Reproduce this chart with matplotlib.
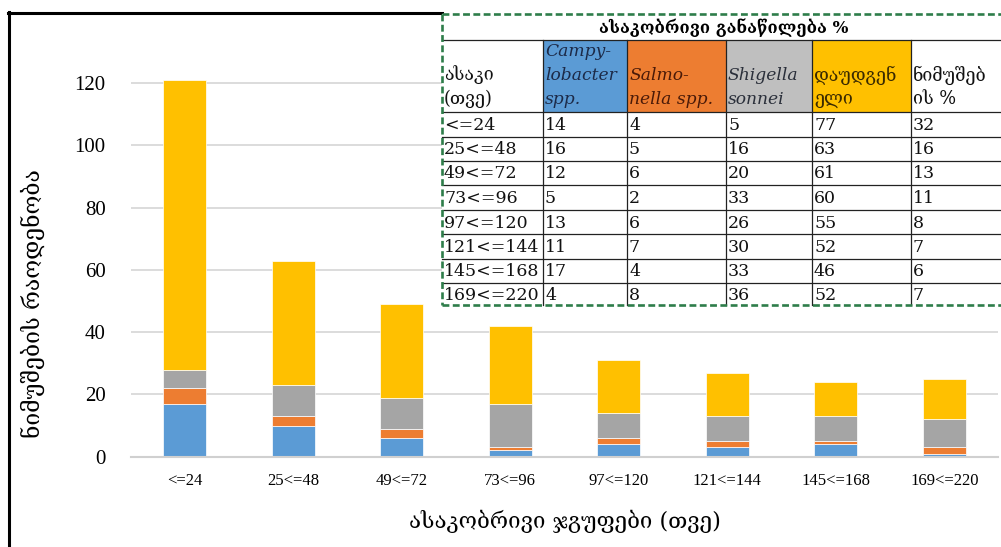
import matplotlib
matplotlib.use("Agg")
import matplotlib.pyplot as plt
import numpy as np
from matplotlib.patches import Rectangle
from matplotlib.lines import Line2D

# ---- data -------------------------------------------------------------
categories = ['<=24', '25<=48', '49<=72', '73<=96', '97<=120',
              '121<=144', '145<=168', '169<=220']
campylobacter = [17, 10, 6, 2, 4, 3, 4, 1]
salmonella = [5, 3, 3, 1, 2, 2, 1, 2]
shigella = [6, 10, 10, 14, 8, 8, 8, 9]
unknown = [93, 40, 30, 25, 17, 14, 11, 13]

y_ticks = [0, 20, 40, 60, 80, 100, 120]

table_title = 'ასაკობრივი განაწილება %'
table_headers = [['ასაკი', '(თვე)'],
                 ['Campy-', 'lobacter', 'spp.'],
                 ['Salmo-', 'nella spp.'],
                 ['Shigella', 'sonnei'],
                 ['დაუდგენ', 'ელი'],
                 ['ნიმუშებ', 'ის %']]
pct_campylobacter = [14, 16, 12, 5, 13, 11, 17, 4]
pct_salmonella = [4, 5, 6, 2, 6, 7, 4, 8]
pct_shigella = [5, 16, 20, 33, 26, 30, 33, 36]
pct_unknown = [77, 63, 61, 60, 55, 52, 46, 52]
pct_samples = [32, 16, 13, 11, 8, 7, 6, 7]

y_label = 'ნიმუშების რაოდენობა'
x_label = 'ასაკობრივი ჯგუფები (თვე)'

# ---- style ------------------------------------------------------------
C_BLUE = '#5b9bd5'
C_ORANGE = '#ed7d31'
C_GRAY = '#a5a5a5'
C_YELLOW = '#ffc000'
SERIF = ['Liberation Serif', 'DejaVu Serif', 'DejaVu Sans']
TSERIF = ['DejaVu Serif', 'DejaVu Sans']
GEO = ['DejaVu Serif', 'DejaVu Sans']

W, H = 1001, 547
fig = plt.figure(figsize=(W / 100, H / 100), dpi=100)


def fx(x):
    return x / W


def fy(y):
    return 1 - y / H


# ---- stacked bars -----------------------------------------------------
ax_left, ax_right, ax_bottom = 130.5, 998.5, 456.7
px_per_unit = 3.114
y_max = 125
ax_top = ax_bottom - y_max * px_per_unit
ax = fig.add_axes([fx(ax_left), fy(ax_bottom),
                   (ax_right - ax_left) / W, (ax_bottom - ax_top) / H])

x = np.arange(len(categories))
bar_w = 0.40
bottom = np.zeros(len(categories))
for vals, col in [(campylobacter, C_BLUE), (salmonella, C_ORANGE),
                  (shigella, C_GRAY), (unknown, C_YELLOW)]:
    ax.bar(x, vals, bar_w, bottom=bottom, color=col,
           edgecolor='white', linewidth=0.5, zorder=3)
    bottom += np.array(vals)

ax.set_xlim(-0.5, len(categories) - 0.5)
ax.set_ylim(0, y_max)
ax.set_yticks(y_ticks)
ax.set_yticklabels([str(t) for t in y_ticks], family=SERIF, fontsize=15)
ax.set_xticks(x)
ax.set_xticklabels(categories, family=SERIF, fontsize=12)
ax.tick_params(axis='y', length=0, pad=18)
ax.tick_params(axis='x', length=0, pad=12)
ax.grid(axis='y', color='#d9d9d9', linewidth=1.3, zorder=0)
for s in ['left', 'right', 'top']:
    ax.spines[s].set_visible(False)
ax.spines['bottom'].set_color('#d0d0d0')
ax.spines['bottom'].set_linewidth(1.5)
ax.spines['bottom'].set_zorder(4)

fig.text(fx(33), fy(304), y_label, rotation=90, ha='center', va='center',
         family=GEO, fontsize=16.5)
fig.text(fx(565), fy(521), x_label, ha='center', va='center',
         family=GEO, fontsize=16)

# frame lines on the left and top
fig.add_artist(Line2D([fx(9), fx(9)], [fy(12), fy(H + 2)], color='black',
                      linewidth=2.2, transform=fig.transFigure))
fig.add_artist(Line2D([fx(8), fx(442)], [fy(13), fy(13)], color='black',
                      linewidth=2.2, transform=fig.transFigure))

# ---- summary table ----------------------------------------------------
col_x = [442, 543, 627, 726, 812, 911, 1003]
row_y = [14, 40, 112, 137, 161, 185, 210, 234, 259, 283, 305]
header_fill = [None, C_BLUE, C_ORANGE, '#bfbfbf', C_YELLOW, None]
header_color = ['#111111', '#1c2a48', '#4a1a08', '#2a2f3a', '#3a2a00', '#111111']

# white background
fig.add_artist(Rectangle((fx(col_x[0]), fy(row_y[-1])),
                         fx(col_x[-1] - col_x[0]), (row_y[-1] - row_y[0]) / H,
                         facecolor='white', edgecolor='none',
                         transform=fig.transFigure, zorder=5))
for i, fill in enumerate(header_fill):
    if fill:
        fig.add_artist(Rectangle((fx(col_x[i]), fy(row_y[2])),
                                 fx(col_x[i + 1] - col_x[i]),
                                 (row_y[2] - row_y[1]) / H,
                                 facecolor=fill, edgecolor='none',
                                 transform=fig.transFigure, zorder=5.1))

grid_kw = dict(color='#222222', linewidth=0.9, transform=fig.transFigure,
               zorder=5.2)
for yy in row_y[1:-1]:
    fig.add_artist(Line2D([fx(col_x[0]), fx(col_x[-1])], [fy(yy), fy(yy)],
                          **grid_kw))
for xx in col_x[1:-1]:
    fig.add_artist(Line2D([fx(xx), fx(xx)], [fy(row_y[1]), fy(row_y[-1])],
                          **grid_kw))

dash_kw = dict(color='#2e7d4a', linewidth=1.9, linestyle=(0, (2.6, 1.3)),
               transform=fig.transFigure, zorder=5.3)
fig.add_artist(Line2D([fx(col_x[0]), fx(col_x[-1])], [fy(row_y[0]), fy(row_y[0])], **dash_kw))
fig.add_artist(Line2D([fx(col_x[0]), fx(col_x[-1])], [fy(row_y[-1]), fy(row_y[-1])], **dash_kw))
fig.add_artist(Line2D([fx(col_x[0]), fx(col_x[0])], [fy(row_y[0]), fy(row_y[-1])], **dash_kw))

fig.text(fx(724), fy(28), table_title, ha='center', va='center',
         family=GEO, fontsize=12, fontweight='bold', zorder=6)

line_ys = {2: [75, 99], 3: [52, 75, 99]}
for i, lines in enumerate(table_headers):
    ys = line_ys[len(lines)]
    italic = 1 <= i <= 3
    for txt, yy in zip(lines, ys):
        fig.text(fx(col_x[i] + 2), fy(yy), txt, ha='left', va='center',
                 family=TSERIF if italic else GEO,
                 style='italic' if italic else 'normal',
                 fontsize=12.3 if italic else 12.8,
                 color=header_color[i], zorder=6)

columns = [categories, pct_campylobacter, pct_salmonella, pct_shigella,
           pct_unknown, pct_samples]
for c, col in enumerate(columns):
    for r, val in enumerate(col):
        yc = (row_y[r + 2] + row_y[r + 3]) / 2
        fig.text(fx(col_x[c] + 2), fy(yc + 1), str(val), ha='left',
                 va='center', family=TSERIF, fontsize=12.5,
                 color='#111111', zorder=6)

fig.savefig('out.png', dpi=100, facecolor='white')
